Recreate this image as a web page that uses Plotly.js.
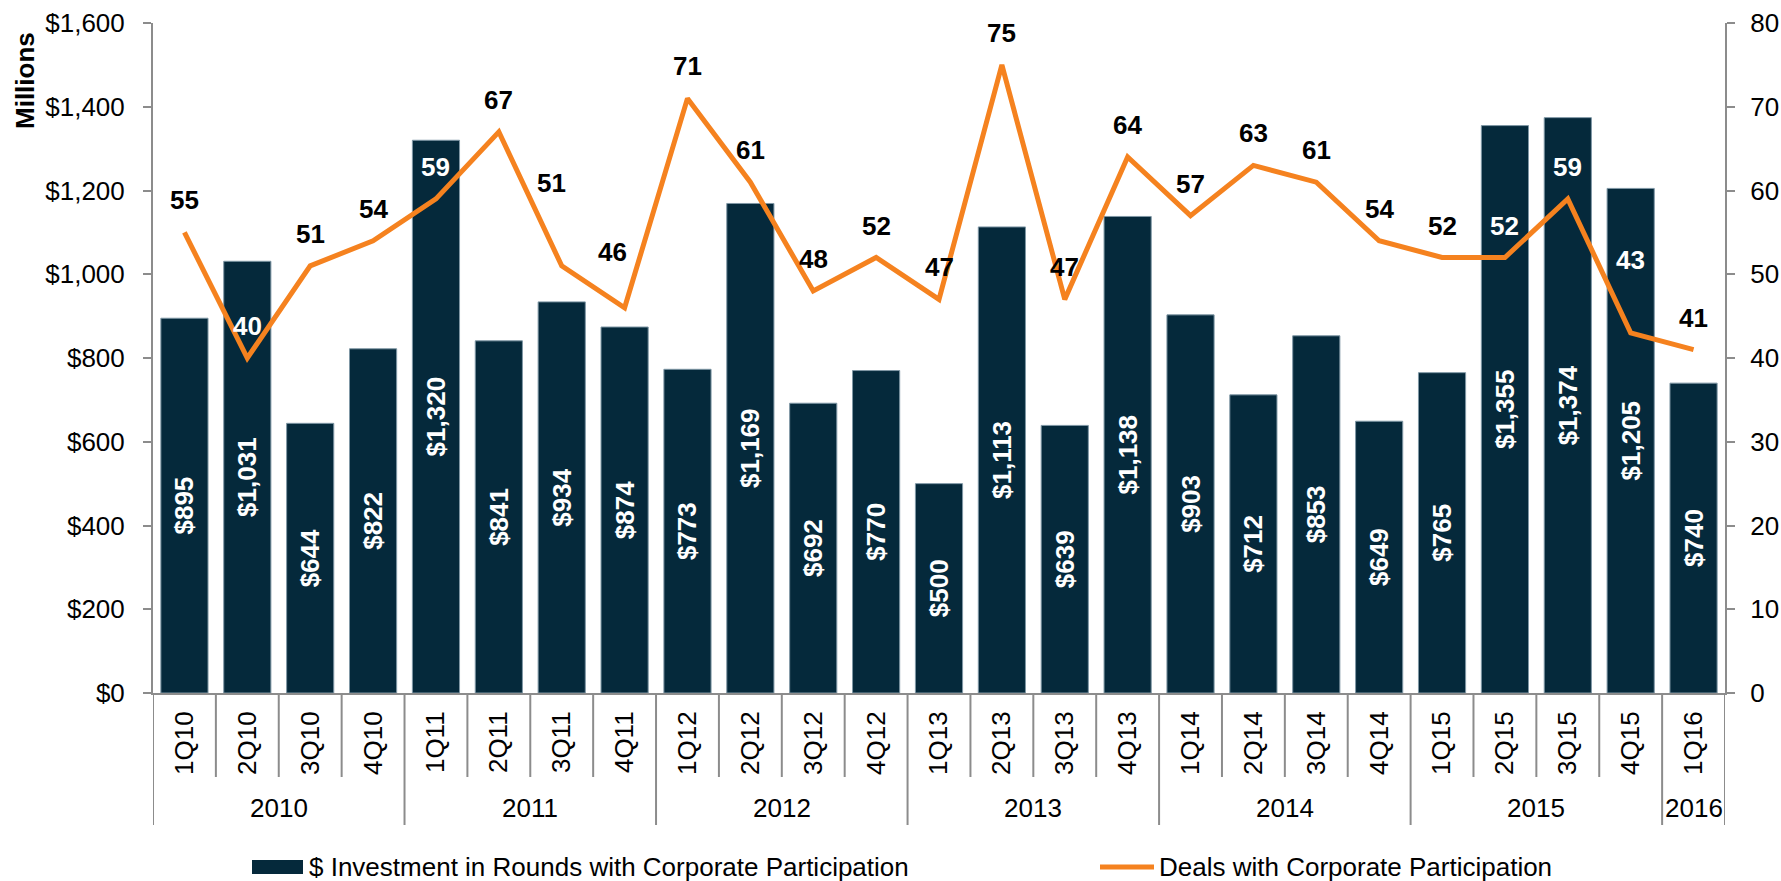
<!DOCTYPE html>
<html>
<head>
<meta charset="utf-8">
<script src="https://cdn.plot.ly/plotly-3.0.1.min.js"></script>
<style>
  html, body { margin: 0; padding: 0; background: #ffffff; }
  #chart { width: 1781px; height: 881px; }
</style>
</head>
<body>
<div id="chart"></div>
<script>
// ---------------- data ----------------
const quarters = ['1Q10','2Q10','3Q10','4Q10','1Q11','2Q11','3Q11','4Q11','1Q12','2Q12','3Q12','4Q12',
                  '1Q13','2Q13','3Q13','4Q13','1Q14','2Q14','3Q14','4Q14','1Q15','2Q15','3Q15','4Q15','1Q16'];
const investment = [895, 1031, 644, 822, 1320, 841, 934, 874, 773, 1169, 692, 770,
                    500, 1113, 639, 1138, 903, 712, 853, 649, 765, 1355, 1374, 1205, 740];
const deals = [55, 40, 51, 54, 59, 67, 51, 46, 71, 61, 48, 52,
               47, 75, 47, 64, 57, 63, 61, 54, 52, 52, 59, 43, 41];
const years = ['2010', '2011', '2012', '2013', '2014', '2015', '2016'];
const quartersPerYear = [4, 4, 4, 4, 4, 4, 1];
const seriesNames = ['$ Investment in Rounds with Corporate Participation', 'Deals with Corporate Participation'];
const yAxisTitle = 'Millions';

// ---------------- styling / layout ----------------
const W = 1781, H = 881;
const M = { l: 153, r: 56, t: 23, b: 188 };
const PW = W - M.l - M.r, PH = H - M.t - M.b;
const FONT = 'Liberation Sans, Arial, Helvetica, sans-serif';
const BAR_COLOR = '#05293B';
const LINE_COLOR = '#F5821F';
const AXIS_COLOR = '#8C8C8C';
const FS = 26;

const px2x = px => (px - M.l) / PW;
const py2y = py => (M.t + PH - py) / PH;

// label lift (pixels above the point) for the deal labels; a few were moved in the original
const dealLabelLift = deals.map(() => 32);
const dealLabelNudge = deals.map(() => 0);
dealLabelLift[6] = 83; dealLabelNudge[6] = -10;
dealLabelLift[7] = 56; dealLabelNudge[7] = -12;
dealLabelLift[23] = 73;

const yMax = 1600, y2Max = 80;

const barTrace = {
  type: 'bar',
  x: quarters,
  y: investment,
  name: seriesNames[0],
  marker: { color: BAR_COLOR, line: { color: '#7F97A5', width: 1 } },
  texttemplate: '$%{y:,}',
  textposition: 'inside',
  insidetextanchor: 'middle',
  textangle: -90,
  textfont: { family: FONT, size: FS, color: '#ffffff', weight: 700 },
  constraintext: 'none',
  hoverinfo: 'skip',
  showlegend: false
};

const lineTrace = {
  type: 'scatter',
  mode: 'lines',
  x: quarters,
  y: deals,
  yaxis: 'y2',
  name: seriesNames[1],
  line: { color: LINE_COLOR, width: 5 },
  hoverinfo: 'skip',
  showlegend: false
};

const annotations = [];
const shapes = [];

// deal labels
deals.forEach((d, i) => {
  const liftVal = dealLabelLift[i] * (yMax / PH);
  const inside = d * (yMax / y2Max) + liftVal < investment[i];
  annotations.push({
    x: i, y: d, xref: 'x', yref: 'y2',
    text: String(d), showarrow: false,
    xanchor: 'center', yanchor: 'middle',
    yshift: dealLabelLift[i], xshift: dealLabelNudge[i],
    font: { family: FONT, size: FS, color: inside ? '#ffffff' : '#000000', weight: 700 }
  });
});

// category separators and year labels
const shortY = py2y(777), longY = py2y(825);
let start = 0;
years.forEach((yr, k) => {
  const n = quartersPerYear[k];
  annotations.push({
    x: start + (n - 1) / 2, y: py2y(808), xref: 'x', yref: 'paper',
    text: yr, showarrow: false, xanchor: 'center', yanchor: 'middle',
    font: { family: FONT, size: FS, color: '#000000' }
  });
  for (let j = 1; j < n; j++) {
    shapes.push({ type: 'line', xref: 'x', yref: 'paper', x0: start + j - 0.5, x1: start + j - 0.5,
      y0: 0, y1: shortY, line: { color: AXIS_COLOR, width: 2 } });
  }
  shapes.push({ type: 'line', xref: 'x', yref: 'paper', x0: start - 0.5, x1: start - 0.5,
    y0: 0, y1: longY, line: { color: AXIS_COLOR, width: 2 } });
  start += n;
});
shapes.push({ type: 'line', xref: 'x', yref: 'paper', x0: start - 0.5, x1: start - 0.5,
  y0: 0, y1: longY, line: { color: AXIS_COLOR, width: 2 } });

// y axis title
annotations.push({
  x: px2x(25), y: py2y(81), xref: 'paper', yref: 'paper',
  text: yAxisTitle, showarrow: false, textangle: -90,
  xanchor: 'center', yanchor: 'middle',
  font: { family: FONT, size: FS, color: '#000000', weight: 700 }
});

// legend (drawn manually to match the wide swatches)
shapes.push({ type: 'rect', xref: 'paper', yref: 'paper',
  x0: px2x(252), x1: px2x(303), y0: py2y(874), y1: py2y(860),
  fillcolor: BAR_COLOR, line: { width: 0 } });
annotations.push({ x: px2x(307), y: py2y(867), xref: 'paper', yref: 'paper',
  text: seriesNames[0], showarrow: false, xanchor: 'left', yanchor: 'middle',
  font: { family: FONT, size: FS, color: '#000000' } });
shapes.push({ type: 'line', xref: 'paper', yref: 'paper',
  x0: px2x(1100), x1: px2x(1154), y0: py2y(867), y1: py2y(867),
  line: { color: LINE_COLOR, width: 5 } });
annotations.push({ x: px2x(1157), y: py2y(867), xref: 'paper', yref: 'paper',
  text: seriesNames[1], showarrow: false, xanchor: 'left', yanchor: 'middle',
  font: { family: FONT, size: FS, color: '#000000' } });

const layout = {
  width: W, height: H,
  margin: M,
  paper_bgcolor: '#ffffff', plot_bgcolor: '#ffffff',
  font: { family: FONT, size: FS, color: '#000000' },
  showlegend: false,
  bargap: 0.25,
  xaxis: {
    type: 'category',
    range: [-0.5, quarters.length - 0.5],
    showline: true, linecolor: AXIS_COLOR, linewidth: 2,
    ticks: '', tickangle: -90,
    tickfont: { family: FONT, size: FS, color: '#000000' },
    ticklabelstandoff: 6,
    showgrid: false, zeroline: false, fixedrange: true
  },
  yaxis: {
    range: [0, yMax], dtick: 200, tick0: 0,
    tickprefix: '$', tickformat: ',d',
    showline: true, linecolor: AXIS_COLOR, linewidth: 2,
    ticks: 'outside', ticklen: 8, tickwidth: 2, tickcolor: AXIS_COLOR,
    tickfont: { family: FONT, size: FS, color: '#000000' },
    ticklabelstandoff: 13,
    showgrid: false, zeroline: false, fixedrange: true
  },
  yaxis2: {
    range: [0, y2Max], dtick: 10, tick0: 0,
    overlaying: 'y', side: 'right',
    showline: true, linecolor: AXIS_COLOR, linewidth: 2,
    ticks: 'outside', ticklen: 8, tickwidth: 2, tickcolor: AXIS_COLOR,
    tickfont: { family: FONT, size: FS, color: '#000000' },
    ticklabelstandoff: 10,
    showgrid: false, zeroline: false, fixedrange: true
  },
  annotations: annotations,
  shapes: shapes
};

Plotly.newPlot('chart', [barTrace, lineTrace], layout, { displayModeBar: false, staticPlot: true });
</script>
</body>
</html>
